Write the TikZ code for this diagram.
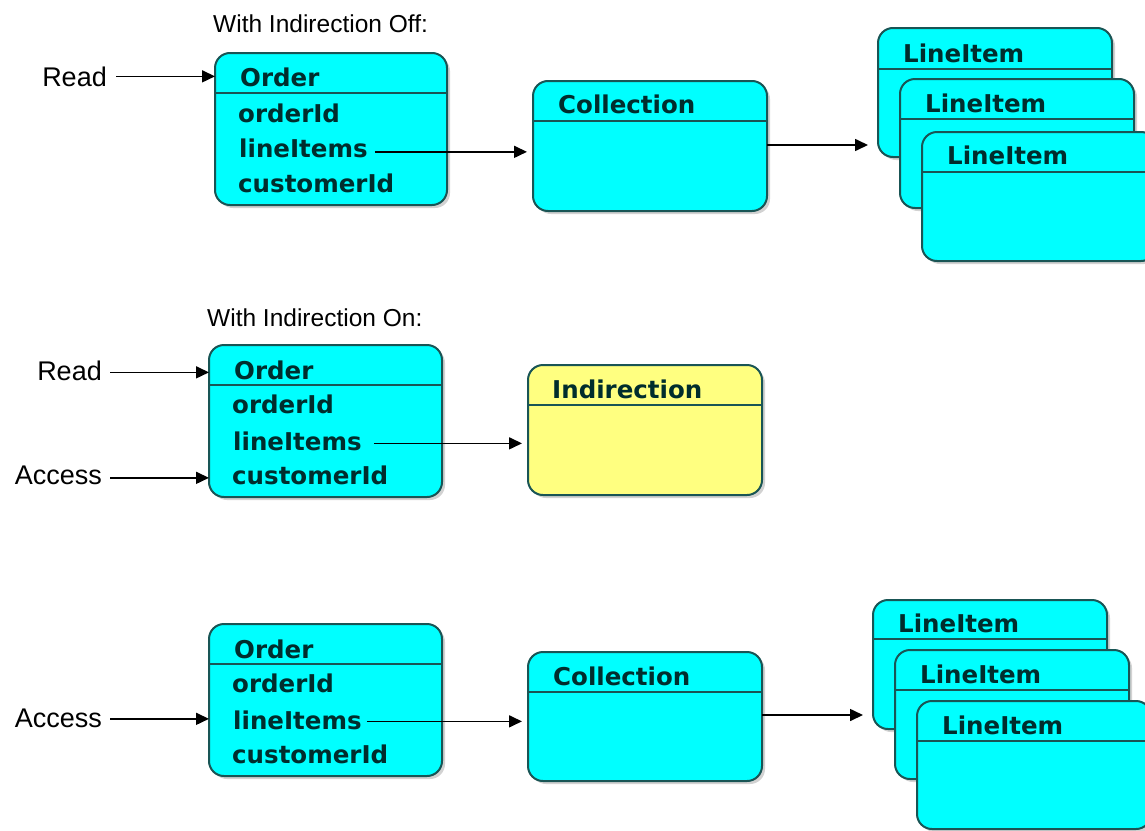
\documentclass[tikz,border=0pt]{standalone}
\usepackage{fontspec}
\setmainfont{Liberation Sans}
\newfontfamily\boxfont{DejaVu Sans}
\usetikzlibrary{arrows.meta,shadows}
\definecolor{cyanf}{RGB}{0,255,255}
\definecolor{yellowf}{RGB}{255,255,128}
\definecolor{bordc}{RGB}{25,85,85}
\definecolor{txtc}{RGB}{0,45,45}
\tikzset{
  box/.style={draw=bordc, line width=2pt, rounded corners=15pt, fill=cyanf,
    inner sep=0pt, outer sep=0pt, anchor=north west,
    drop shadow={shadow xshift=3pt, shadow yshift=-3pt, fill=black!22, opacity=0.8}},
  obox/.style={box, minimum width=233pt, minimum height=152pt},
  cbox/.style={box, minimum width=234pt, minimum height=130pt},
  hline/.style={draw=bordc, line width=2pt},
  fld/.style={inner sep=0pt, anchor=base west, text=txtc,
    font=\boxfont\bfseries\fontsize{24.5}{28}\selectfont},
  lbl/.style={inner sep=0pt, anchor=base east, font=\fontsize{27}{30}\selectfont},
  ttl/.style={inner sep=0pt, anchor=base west, font=\fontsize{24.5}{28}\selectfont},
  arr/.style={-{Triangle[length=13pt,width=12pt]}, line width=1.6pt, black},
}
\begin{document}
\begin{tikzpicture}[x=1pt,y=-1pt]
\path[use as bounding box] (0,0) rectangle (1145,830);
\clip (0,0) rectangle (1145,830);
\fill[white] (0,0) rectangle (1145,830);

% ---------- Section 1 ----------
\node[ttl] (t1) at (213,32) {With Indirection Off:};
\node[obox, minimum width=232pt] (o1) at (215,53) {};
\draw[hline] ([yshift=-40pt]o1.north west) -- ([yshift=-40pt]o1.north east);
\node[fld] (o1h) at ([xshift=25pt,yshift=-33pt]o1.north west) {Order};
\node[fld] (o1a) at ([xshift=23pt,yshift=-69pt]o1.north west) {orderId};
\node[fld] (o1b) at ([xshift=24pt,yshift=-104.5pt]o1.north west) {lineItems};
\node[fld] (o1c) at ([xshift=23pt,yshift=-139.5pt]o1.north west) {customerId};

\node[cbox] (c1) at (533,81) {};
\draw[hline] ([yshift=-40pt]c1.north west) -- ([yshift=-40pt]c1.north east);
\node[fld] (c1h) at ([xshift=25pt,yshift=-32pt]c1.north west) {Collection};

\node[cbox, minimum height=129pt] (l1a) at (878,28) {};
\draw[hline] ([yshift=-41pt]l1a.north west) -- ([yshift=-41pt]l1a.north east);
\node[fld] (l1ah) at ([xshift=25pt,yshift=-34pt]l1a.north west) {LineItem};
\node[cbox, minimum height=129pt] (l1b) at (900,79) {};
\draw[hline] ([yshift=-40pt]l1b.north west) -- ([yshift=-40pt]l1b.north east);
\node[fld] (l1bh) at ([xshift=25pt,yshift=-33pt]l1b.north west) {LineItem};
\node[cbox, minimum height=129pt] (l1c) at (922,132) {};
\draw[hline] ([yshift=-40pt]l1c.north west) -- ([yshift=-40pt]l1c.north east);
\node[fld] (l1ch) at ([xshift=25pt,yshift=-32pt]l1c.north west) {LineItem};

\node[lbl] (r1) at (107,86) {Read};
\draw[arr, shorten <=9pt] (r1.east) -- (r1.east -| o1.west);
\draw[arr, shorten <=7pt, shorten >=6pt] ([yshift=3pt]o1b.mid east) -- ([yshift=3pt]o1b.mid east -| c1.west);
\draw[arr, shorten >=10pt] ([yshift=-64pt]c1.north east) -- ([yshift=-64pt]c1.north east -| l1a.west);

% ---------- Section 2 ----------
\node[ttl] (t2) at (207,326) {With Indirection On:};
\node[obox] (o2) at (209,345) {};
\draw[hline] ([yshift=-40pt]o2.north west) -- ([yshift=-40pt]o2.north east);
\node[fld] (o2h) at ([xshift=25pt,yshift=-34pt]o2.north west) {Order};
\node[fld] (o2a) at ([xshift=23pt,yshift=-68pt]o2.north west) {orderId};
\node[fld] (o2b) at ([xshift=24pt,yshift=-105pt]o2.north west) {lineItems};
\node[fld] (o2c) at ([xshift=23pt,yshift=-139pt]o2.north west) {customerId};

\node[cbox, fill=yellowf] (i2) at (528,365) {};
\draw[hline] ([yshift=-40pt]i2.north west) -- ([yshift=-40pt]i2.north east);
\node[fld] (i2h) at ([xshift=24pt,yshift=-33pt]i2.north west) {Indirection};

\node[lbl] (r2) at (102,380) {Read};
\node[lbl] (a2) at (102,484) {Access};
\draw[arr, shorten <=8pt] ([yshift=-2pt]r2.east) -- ([yshift=-2pt]r2.east -| o2.west);
\draw[arr, shorten <=8pt] ([yshift=-3pt]a2.east) -- ([yshift=-3pt]a2.east -| o2.west);
\draw[arr, shorten <=12pt, shorten >=6pt] ([yshift=4pt]o2b.mid east) -- ([yshift=4pt]o2b.mid east -| i2.west);

% ---------- Section 3 ----------
\node[obox] (o3) at (209,624) {};
\draw[hline] ([yshift=-40pt]o3.north west) -- ([yshift=-40pt]o3.north east);
\node[fld] (o3h) at ([xshift=25pt,yshift=-34pt]o3.north west) {Order};
\node[fld] (o3a) at ([xshift=23pt,yshift=-68pt]o3.north west) {orderId};
\node[fld] (o3b) at ([xshift=24pt,yshift=-105pt]o3.north west) {lineItems};
\node[fld] (o3c) at ([xshift=23pt,yshift=-139pt]o3.north west) {customerId};

\node[cbox, minimum height=129pt] (c3) at (528,652) {};
\draw[hline] ([yshift=-40pt]c3.north west) -- ([yshift=-40pt]c3.north east);
\node[fld] (c3h) at ([xshift=25pt,yshift=-33pt]c3.north west) {Collection};

\node[cbox, minimum height=129pt] (l3a) at (873,600) {};
\draw[hline] ([yshift=-39pt]l3a.north west) -- ([yshift=-39pt]l3a.north east);
\node[fld] (l3ah) at ([xshift=25pt,yshift=-32pt]l3a.north west) {LineItem};
\node[cbox, minimum height=129pt] (l3b) at (895,650) {};
\draw[hline] ([yshift=-40pt]l3b.north west) -- ([yshift=-40pt]l3b.north east);
\node[fld] (l3bh) at ([xshift=25pt,yshift=-33pt]l3b.north west) {LineItem};
\node[cbox, minimum height=128pt] (l3c) at (917,701) {};
\draw[hline] ([yshift=-40pt]l3c.north west) -- ([yshift=-40pt]l3c.north east);
\node[fld] (l3ch) at ([xshift=25pt,yshift=-33pt]l3c.north west) {LineItem};

\node[lbl] (a3) at (102,727) {Access};
\draw[arr, shorten <=8pt] ([yshift=-1pt]a3.east) -- ([yshift=-1pt]a3.east -| o3.west);
\draw[arr, shorten <=5pt, shorten >=6pt] ([yshift=5pt]o3b.mid east) -- ([yshift=5pt]o3b.mid east -| c3.west);
\draw[arr, shorten >=10pt] ([yshift=-63pt]c3.north east) -- ([yshift=-63pt]c3.north east -| l3a.west);
\end{tikzpicture}
\end{document}
